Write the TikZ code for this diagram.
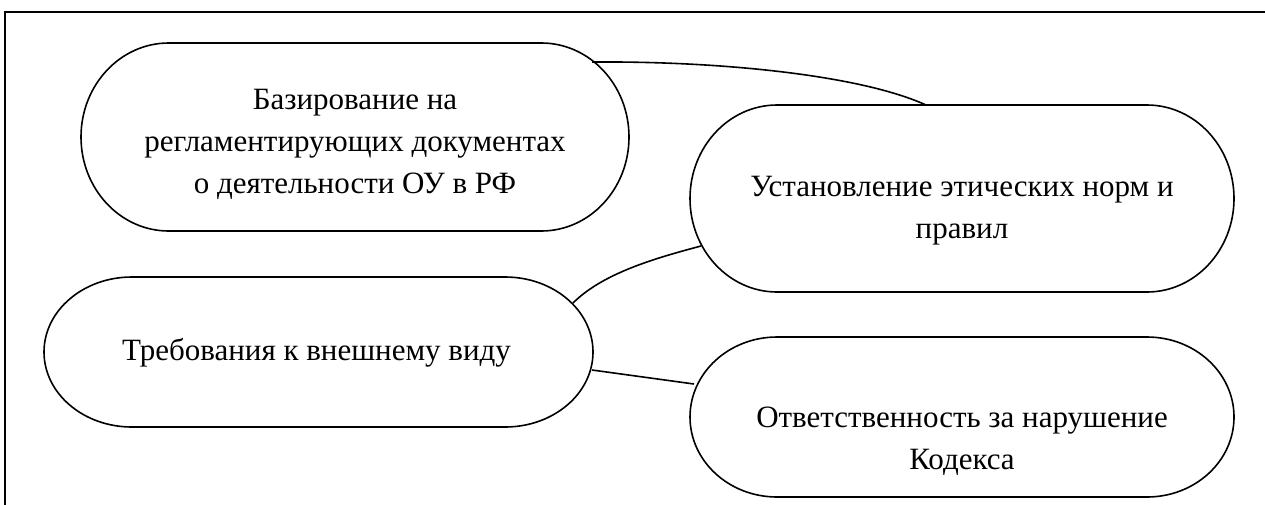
\documentclass[tikz,border=0pt]{standalone}
\usepackage{fontspec}
\setmainfont{Liberation Serif}
\usetikzlibrary{calc}
\tikzset{
  shapebox/.style={draw=none, inner sep=0pt, outer sep=0pt},
  label text/.style={align=center, inner sep=0pt, font=\fontsize{31}{42}\selectfont},
  link/.style={line width=1.6pt},
  outline/.style={line width=1.6pt},
}
% draw a terminator-like outline around a named node
\newcommand\termoutline[1]{%
  \draw[outline] let \p1=(#1.north west), \p2=(#1.south east),
     \n1={0.16*(\x2-\x1)}, \n2={(\y1-\y2)/2} in
     ([xshift=\n1]#1.north west) -- ([xshift=-\n1]#1.north east)
     arc[start angle=90, end angle=-90, x radius=\n1, y radius=\n2]
     -- ([xshift=\n1]#1.south west)
     arc[start angle=270, end angle=90, x radius=\n1, y radius=\n2] -- cycle;}
\begin{document}
\begin{tikzpicture}[x=1pt, y=-1pt]
\useasboundingbox (0,0) rectangle (1265,504);
% frame (only top and left edges are visible)
\draw[line width=1.8pt] (5,540) -- (5,12) -- (1300,12);

\node[shapebox, minimum width=548pt, minimum height=188pt] (b1) at (355,137) {};
\node[shapebox, minimum width=544pt, minimum height=187pt] (b2) at (962,198.5) {};
\node[shapebox, minimum width=549pt, minimum height=150pt] (b3) at (318.5,352) {};
\node[shapebox, minimum width=544pt, minimum height=160pt] (b4) at (962,417) {};
\termoutline{b1}
\termoutline{b2}
\termoutline{b3}
\termoutline{b4}

\node[label text] (t1) at ($(b1.center)+(0,7)$) {Базирование на\\регламентирующих документах\\о деятельности ОУ в РФ};
\node[label text] (t2) at ($(b2.center)+(0,12)$) {Установление этических норм и\\правил};
\node[label text] (t3) at ($(b3.center)+(-2,1)$) {Требования к внешнему виду};
\node[label text] (t4) at ($(b4.center)+(0,24)$) {Ответственность за нарушение\\Кодекса};

\draw[link] ($(b1.north east)+(-37,19)$) .. controls ($(b1.north east)+(91,18)$) and ($(b2.north west)+(170,-30)$) .. ($(b2.north west)+(236,0)$);
\draw[link] ($(b3.north east)+(-20,26)$) .. controls ($(b3.north east)+(10,-4)$) and ($(b2.west)+(-34,59.5)$) .. ($(b2.west)+(11,47.5)$);
\draw[link] ($(b3.east)+(-1,18)$) -- ($(b4.west)+(4,-33)$);
\end{tikzpicture}
\end{document}
